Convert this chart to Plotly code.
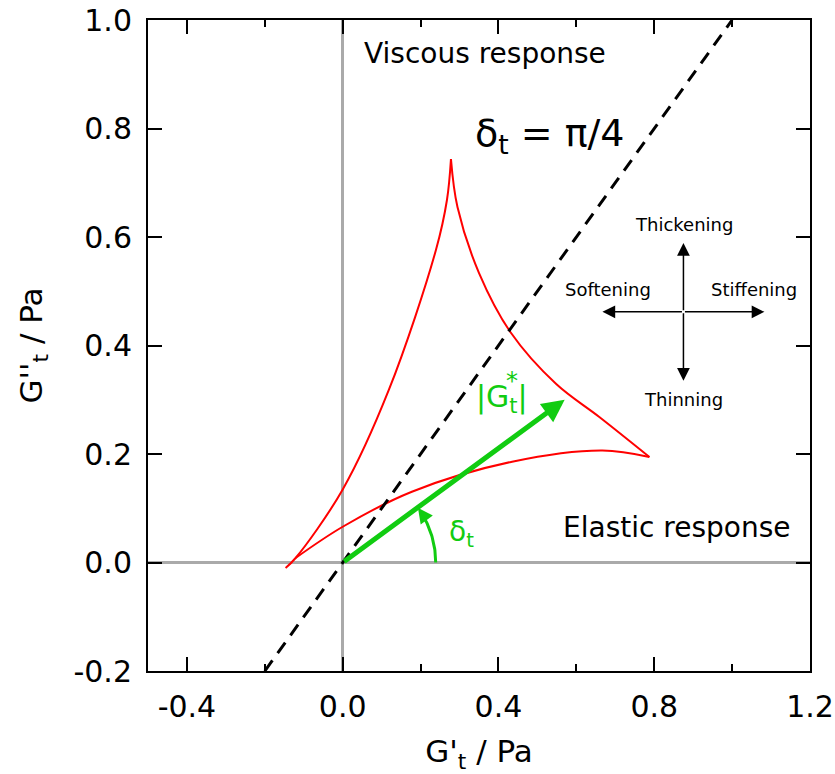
import numpy as np
import plotly.graph_objects as go

# ---- data ----
# red curve, three branches (cusps kept sharp)
left_x = [-0.1467, -0.121, 0.0, 0.1184, 0.2394, 0.2677, 0.278]
left_y = [-0.0101, 0.0083, 0.1346, 0.318, 0.576, 0.6682, 0.7438]
right_x = [0.278, 0.2947, 0.3501, 0.4324, 0.5483, 0.659, 0.7876]
right_y = [0.7438, 0.6553, 0.5336, 0.423, 0.329, 0.2682, 0.1945]
lower_x = [0.7876, 0.6667, 0.435, 0.1776, 0.0, -0.121]
lower_y = [0.1945, 0.2065, 0.1858, 0.1305, 0.0659, 0.0083]

# delta = pi/4 line
diag_x = [-0.2, 1.0]
diag_y = [-0.2, 1.0]

# complex modulus vector
vec_x = [0.0, 0.57]
vec_y = [0.0, 0.30]

# cross of arrows
cross_center = [0.875, 0.462]
cross_dx = 0.208
cross_dy = 0.127

x_tickvals = [-0.4, 0.0, 0.4, 0.8, 1.2]
x_ticktext = ["-0.4", "0.0", "0.4", "0.8", "1.2"]
x_minorvals = [-0.2, 0.2, 0.6, 1.0]
y_tickvals = [-0.2, 0.0, 0.2, 0.4, 0.6, 0.8, 1.0]
y_ticktext = ["-0.2", "0.0", "0.2", "0.4", "0.6", "0.8", "1.0"]

# ---- layout geometry ----
W, H = 835, 774
ML, MR, MT, MB = 148, 25, 20, 103
xr = [-0.5, 1.2]
yr = [-0.2, 1.0]
px_x = (W - ML - MR) / (xr[1] - xr[0])
px_y = (H - MT - MB) / (yr[1] - yr[0])

RED = "#ff0000"
GREEN = "#11cc11"
FONT = "DejaVu Sans"

fig = go.Figure()

for bx, by in [(left_x, left_y), (right_x, right_y), (lower_x, lower_y)]:
    fig.add_trace(go.Scatter(x=bx, y=by, mode="lines",
                             line=dict(color=RED, width=2, shape="spline", smoothing=1.0),
                             showlegend=False, hoverinfo="skip"))

fig.add_trace(go.Scatter(x=diag_x, y=diag_y, mode="lines",
                         line=dict(color="black", width=3, dash="13px,9px"),
                         showlegend=False, hoverinfo="skip"))

# angle arc (circular on screen)
R = 93
theta = np.linspace(0, np.radians(33), 40)
arc_x = R / px_x * np.cos(theta)
arc_y = R / px_y * np.sin(theta)
fig.add_trace(go.Scatter(x=arc_x, y=arc_y, mode="lines",
                         line=dict(color=GREEN, width=3),
                         showlegend=False, hoverinfo="skip"))

annotations = []
# vector arrow
annotations.append(dict(x=vec_x[1], y=vec_y[1], ax=vec_x[0], ay=vec_y[0],
                        xref="x", yref="y", axref="x", ayref="y", text="",
                        showarrow=True, arrowhead=2, arrowsize=0.9, arrowwidth=5,
                        arrowcolor=GREEN, standoff=0))
# arc arrowhead
te = np.radians(36)
hx = R / px_x * np.cos(te)
hy = R / px_y * np.sin(te)
L = 8
annotations.append(dict(x=hx, y=hy, ax=L * np.sin(te), ay=L * np.cos(te),
                        xref="x", yref="y", text="", showarrow=True,
                        arrowhead=2, arrowsize=1.2, arrowwidth=2.5,
                        arrowcolor=GREEN, standoff=0))
# cross arrows
cx, cy = cross_center
for ex, ey in [(cx - cross_dx, cy), (cx + cross_dx, cy), (cx, cy + cross_dy), (cx, cy - cross_dy)]:
    annotations.append(dict(x=ex, y=ey, ax=cx, ay=cy, xref="x", yref="y",
                            axref="x", ayref="y", text="", showarrow=True,
                            arrowhead=2, arrowsize=1.7, arrowwidth=1.5,
                            arrowcolor="black", standoff=0))


def data_x(px):
    return xr[0] + (px - ML) / px_x


def data_y(py):
    return yr[1] - (py - MT) / px_y


def label(text, px, py, size, color="black"):
    annotations.append(dict(x=data_x(px), y=data_y(py), xref="x", yref="y",
                            text=text, showarrow=False, xanchor="center",
                            yanchor="middle", font=dict(family=FONT, size=size, color=color)))


label("Viscous response", 485, 53, 28)
label("δ<sub>t</sub> = π/4", 550, 135, 38)
label("Elastic response", 676, 527, 28)
label("Thickening", 684, 224, 18)
label("Softening", 608, 289, 18)
label("Stiffening", 754, 289, 18)
label("Thinning", 683, 399, 18)
label("|G<sub>t</sub>|", 502, 398, 30, GREEN)
label("*", 512, 381, 24, GREEN)
label("δ<sub>t</sub>", 461, 533, 28, GREEN)

axis_common = dict(showline=True, linecolor="black", linewidth=2, mirror="ticks",
                   ticks="inside", ticklen=14, tickwidth=2, tickcolor="black",
                   showgrid=False, zeroline=True, zerolinecolor="#aaaaaa", zerolinewidth=3,
                   tickfont=dict(family=FONT, size=30, color="black"),
                   ticklabelstandoff=8, automargin=False)

fig.update_layout(
    width=W, height=H,
    margin=dict(l=ML, r=MR, t=MT, b=MB),
    paper_bgcolor="white", plot_bgcolor="white",
    xaxis=dict(range=xr, tickvals=x_tickvals, ticktext=x_ticktext,
               minor=dict(tickvals=x_minorvals, ticks="inside", ticklen=7,
                          tickwidth=2, tickcolor="black"),
               title=dict(text="G'<sub>t</sub> / Pa", font=dict(family=FONT, size=31, color="black"),
                          standoff=18),
               **axis_common),
    yaxis=dict(range=yr, tickvals=y_tickvals, ticktext=y_ticktext,
               title=dict(text="G''<sub>t</sub> / Pa", font=dict(family=FONT, size=31, color="black"),
                          standoff=22),
               **axis_common),
    annotations=annotations,
    font=dict(family=FONT),
)

fig.write_html("out.html")
